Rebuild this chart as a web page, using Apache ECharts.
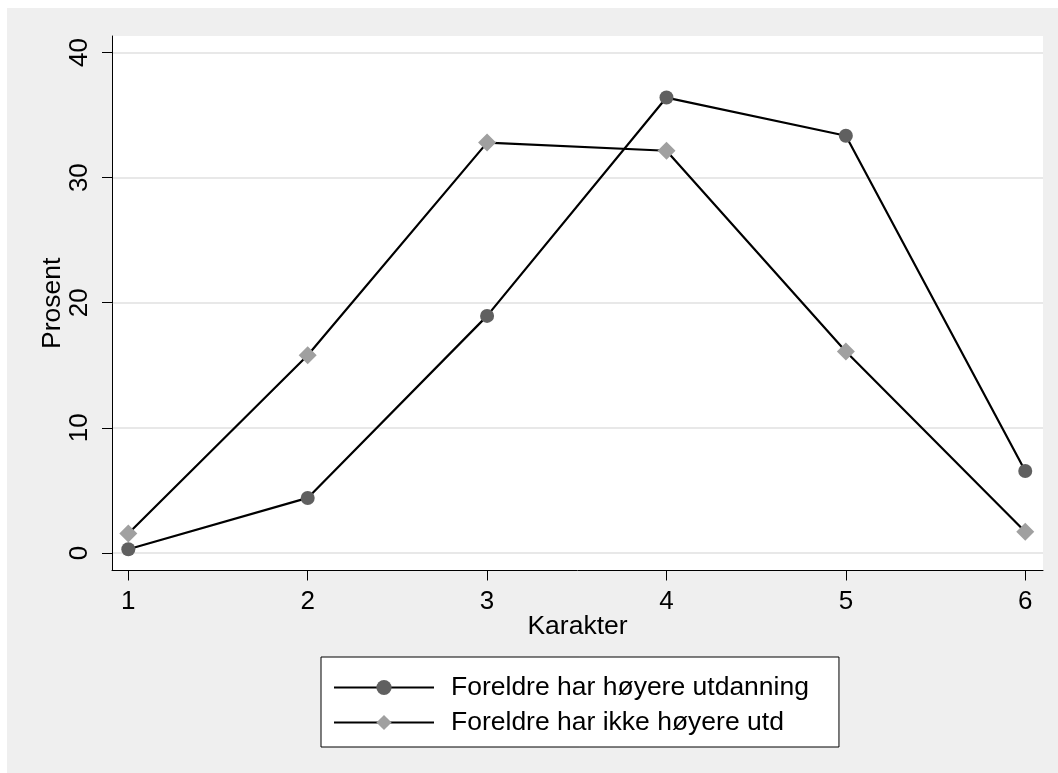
<!DOCTYPE html>
<html>
<head>
<meta charset="utf-8">
<script src="https://cdn.jsdelivr.net/npm/echarts@6/dist/echarts.min.js"></script>
<style>
html,body{margin:0;padding:0;background:#fff;}
#c{width:1058px;height:773px;}
</style>
</head>
<body>
<div id="c"></div>
<script>
const categories = [1, 2, 3, 4, 5, 6];
const seriesNames = ['Foreldre har høyere utdanning', 'Foreldre har ikke høyere utd'];
const hoyere = [0.3, 4.4, 18.95, 36.4, 33.35, 6.55];
const ikkeHoyere = [1.55, 15.8, 32.8, 32.15, 16.1, 1.7];
const yTicks = [0, 10, 20, 30, 40];
const xTicks = [1, 2, 3, 4, 5, 6];

const font = '"Liberation Sans", Arial, sans-serif';
const chart = echarts.init(document.getElementById('c'), null, {renderer: 'canvas'});
chart.setOption({
  animation: false,
  backgroundColor: '#fff',
  textStyle: {fontFamily: font},
  graphic: [{
    type: 'rect', left: 7, top: 8, z: -10, silent: true,
    shape: {width: 1051, height: 765},
    style: {fill: '#efefef'}
  }],
  grid: {
    left: 112, right: 15, top: 36, bottom: 202.5,
    show: true, backgroundColor: '#ffffff', borderWidth: 0
  },
  xAxis: {
    type: 'value', min: 0.909, max: 6.099,
    name: 'Karakter', nameLocation: 'middle', nameGap: 43, nameMoveOverlap: false,
    nameTextStyle: {fontSize: 26.5, color: '#000', fontFamily: font},
    axisLine: {show: true, onZero: false, lineStyle: {color: '#000', width: 1}},
    axisTick: {show: true, length: 10, lineStyle: {color: '#000'}, customValues: xTicks},
    axisLabel: {show: true, fontSize: 26, color: '#000', margin: 18, customValues: xTicks, fontFamily: font},
    splitLine: {show: false}
  },
  yAxis: {
    type: 'value', min: -1.4, max: 41.32,
    name: 'Prosent', nameLocation: 'middle', nameGap: 46, nameRotate: 90, nameMoveOverlap: false,
    nameTextStyle: {fontSize: 26.5, color: '#000', fontFamily: font},
    axisLine: {show: true, onZero: false, lineStyle: {color: '#000', width: 1}},
    axisTick: {show: true, length: 10, lineStyle: {color: '#000'}, customValues: yTicks},
    axisLabel: {show: true, fontSize: 26, color: '#000', margin: 19, rotate: 90, customValues: yTicks, fontFamily: font},
    splitLine: {show: true, lineStyle: {color: '#e8e8e8', width: 2}}
  },
  legend: {
    orient: 'vertical', left: 321, top: 657,
    backgroundColor: '#fff', borderColor: '#000', borderWidth: 1,
    padding: [17, 30, 11, 12],
    itemWidth: 100, itemHeight: 19, itemGap: 8,
    textStyle: {fontSize: 26.5, color: '#000', fontFamily: font, lineHeight: 26, padding: [0, 0, 0, 12]},
    data: seriesNames
  },
  series: [
    {
      name: seriesNames[0], type: 'line',
      data: categories.map((c, i) => [c, hoyere[i]]),
      symbol: 'circle', symbolSize: 14,
      itemStyle: {color: '#606060', borderWidth: 0},
      lineStyle: {color: '#000', width: 2.2},
      z: 3
    },
    {
      name: seriesNames[1], type: 'line',
      data: categories.map((c, i) => [c, ikkeHoyere[i]]),
      symbol: 'diamond', symbolSize: 18,
      itemStyle: {color: '#a0a0a0', borderWidth: 0},
      lineStyle: {color: '#000', width: 2.2},
      z: 2
    }
  ]
});
</script>
</body>
</html>
